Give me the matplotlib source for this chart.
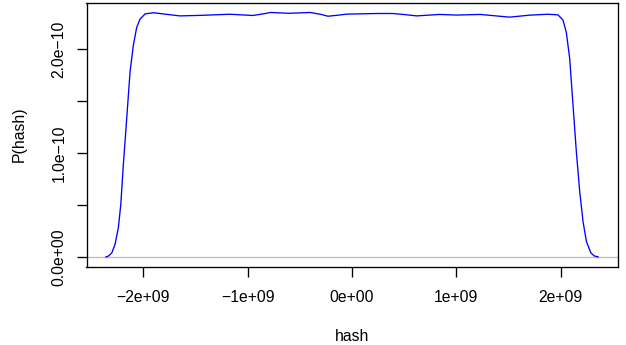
import matplotlib
matplotlib.use("Agg")
import matplotlib.pyplot as plt

# density curve (x in units of 1e9, y in units of 1e-10)
hash_x = [-2.357, -2.33, -2.30, -2.27, -2.238, -2.215, -2.19, -2.158, -2.126, -2.094,
          -2.062, -2.03, -1.98, -1.90, -1.80, -1.65, -1.45, -1.17, -0.95,
          -0.83, -0.78, -0.60, -0.40, -0.30, -0.23, -0.15, -0.05, 0.10, 0.24,
          0.39, 0.50, 0.62, 0.84, 1.00, 1.23, 1.40, 1.51, 1.70, 1.877, 1.973,
          2.021, 2.053, 2.085, 2.117, 2.149, 2.181, 2.213, 2.245, 2.287, 2.32, 2.357]
density = [0.00, 0.01, 0.04, 0.12, 0.28, 0.50, 0.89, 1.33, 1.78, 2.04,
           2.21, 2.29, 2.34, 2.35, 2.338, 2.32, 2.325, 2.336, 2.324,
           2.343, 2.353, 2.345, 2.353, 2.335, 2.317, 2.325, 2.337, 2.340, 2.343,
           2.343, 2.333, 2.320, 2.334, 2.328, 2.334, 2.318, 2.308, 2.327, 2.336,
           2.33, 2.28, 2.16, 1.91, 1.46, 1.01, 0.63, 0.34, 0.15, 0.04, 0.01, 0.00]

x_ticks = [-2, -1, 0, 1, 2]
x_tick_labels = ["\u22122e+09", "\u22121e+09", "0e+00", "1e+09", "2e+09"]
y_ticks = [0.0, 0.5, 1.0, 1.5, 2.0]
y_tick_labels = ["0.0e+00", "", "1.0e\u221210", "", "2.0e\u221210"]

plt.rcParams['font.family'] = ['Liberation Sans', 'DejaVu Sans']
FS = 11.3

fig = plt.figure(figsize=(6.26, 3.45), dpi=100)
ax = fig.add_axes([86.5 / 626, 1 - 266.7 / 345, 531 / 626, 264 / 345])

ax.axhline(0, color="#BEBEBE", lw=0.95, zorder=1)
ax.plot([v * 1e9 for v in hash_x], [v * 1e-10 for v in density],
        color="#0000FF", lw=0.95, zorder=2)

ax.set_xlim(-2.543e9, 2.543e9)
ax.set_ylim(-0.094e-10, 2.447e-10)

ax.set_xticks([t * 1e9 for t in x_ticks])
ax.set_xticklabels(x_tick_labels, fontsize=FS)
ax.set_yticks([t * 1e-10 for t in y_ticks])
ax.set_yticklabels(y_tick_labels, fontsize=FS, rotation=90, va="center")

ax.tick_params(axis="both", direction="out", length=6.9, width=0.95, color="black")
ax.tick_params(axis="x", pad=10.0)
ax.tick_params(axis="y", pad=7.5)

for s in ax.spines.values():
    s.set_linewidth(0.95)
    s.set_color("black")

ax.set_xlabel("hash", fontsize=FS, labelpad=17)
ax.set_ylabel("P(hash)", fontsize=FS, labelpad=18)

fig.savefig("out.png", dpi=100)
